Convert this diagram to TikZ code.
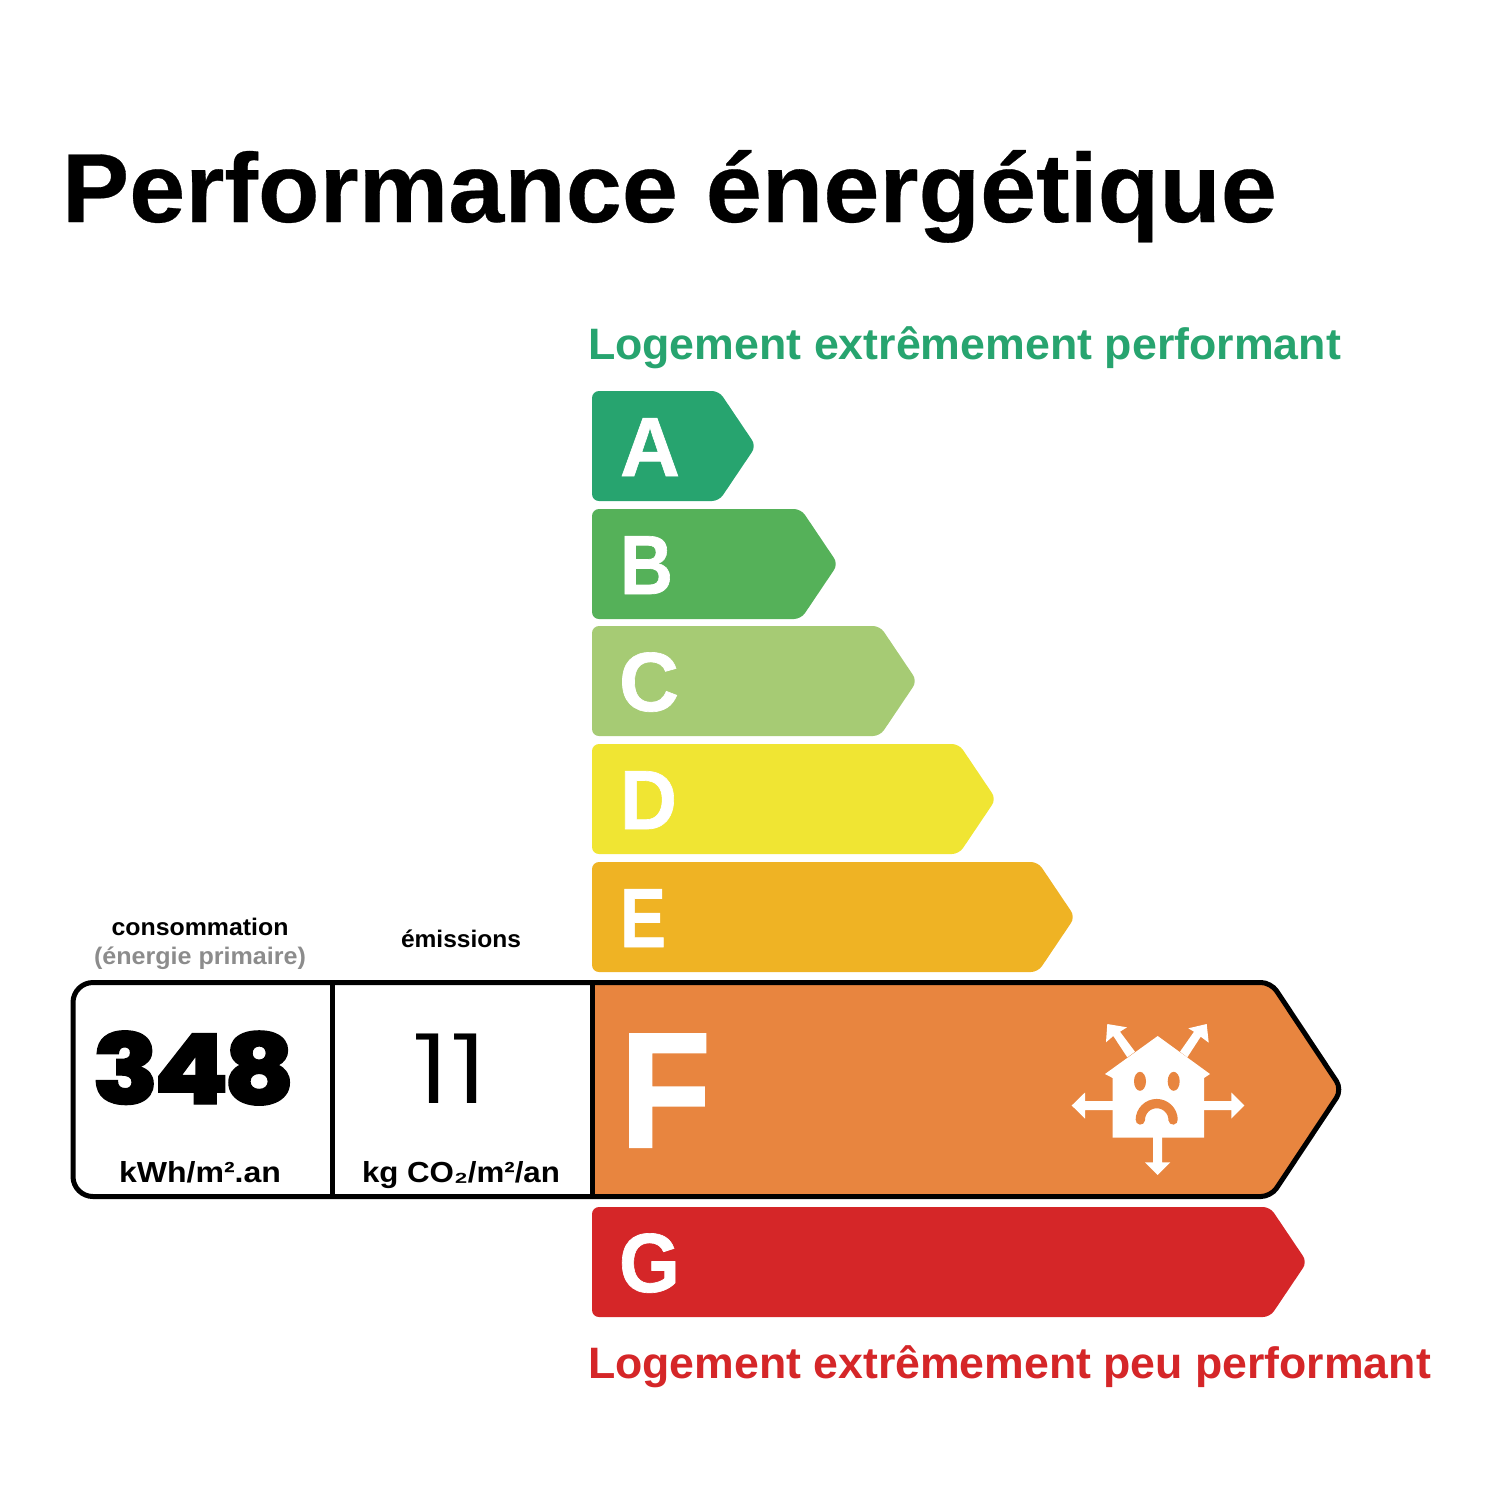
\documentclass[tikz,border=0pt]{standalone}
\usepackage{fontspec}
\setmainfont{Liberation Sans}
\newfontfamily\blackfont{Poppins ExtraBold}[FakeBold=1.4]
\newfontfamily\lightfont{Poppins Light}
\definecolor{gradeA}{HTML}{27A46F}
\definecolor{gradeB}{HTML}{55B159}
\definecolor{gradeC}{HTML}{A6CB74}
\definecolor{gradeD}{HTML}{F0E533}
\definecolor{gradeE}{HTML}{EFB324}
\definecolor{gradeF}{HTML}{E8853F}
\definecolor{gradeG}{HTML}{D52628}
\definecolor{labelgray}{HTML}{8C8C8C}
\newsavebox{\fitbox}
% \fitw{target width}{text}: stretch the text horizontally to a given width
\newcommand{\fitw}[2]{\sbox{\fitbox}{#2}\pgfmathsetmacro{\fitratio}{#1/(\wd\fitbox/1pt)}\scalebox{\fitratio}[1]{\usebox{\fitbox}}}
\newcommand{\fs}[1]{\fontsize{#1}{#1}\selectfont}
\newcommand{\heavy}[1]{\addfontfeature{FakeBold=#1}}
\tikzset{
  x=1pt,y=-1pt,
  txt/.style={inner sep=0pt,outer sep=0pt,anchor=base},
  txtw/.style={inner sep=0pt,outer sep=0pt,anchor=base west},
  grade/.style={rounded corners=7pt,draw=none},
  frameline/.style={draw=black,line width=5pt},
  icon/.style={fill=white,draw=none},
  iconcut/.style={fill=gradeF,draw=none},
}
% name, top y, apex x, colour, letter, letter x, letter width
\newcommand{\gradebar}[7]{%
  \fill[grade,#4] (592,#2+55) -- (592,#2) -- (#3-37,#2) -- (#3,#2+55) -- (#3-37,#2+110) -- (592,#2+110) -- cycle;
  \node[txtw,text=white] (#1) at (#6,#2+85) {\fitw{#7}{\fs{84}\bfseries\heavy{0.8} #5}};
}
\begin{document}
\begin{tikzpicture}
\useasboundingbox (0,0) rectangle (1500,1500);
\node[txtw] (title) at (62,222) {\fitw{1215}{\fs{98}\bfseries\heavy{0.3} Performance énergétique}};
\node[txtw,text=gradeA] (top) at (588,359) {\fitw{753}{\fs{44}\bfseries Logement extrêmement performant}};
\node[txtw,text=gradeG] (bottom) at (588,1378) {\fitw{843}{\fs{44}\bfseries Logement extrêmement peu performant}};

\gradebar{la}{391}{756}{gradeA}{A}{620}{60}
\gradebar{lb}{509}{838}{gradeB}{B}{620}{53}
\gradebar{lc}{626}{917}{gradeC}{C}{619}{60}
\gradebar{ld}{744}{996}{gradeD}{D}{620}{57}
\gradebar{le}{862}{1075}{gradeE}{E}{620}{46}
\gradebar{lg}{1207}{1307}{gradeG}{G}{619}{61}

% F bar and frame
\fill[gradeF,rounded corners=10pt] (592,982.5) -- (1271,982.5) -- (1342,1089.5) -- (1271,1196.5) -- (592,1196.5) [sharp corners] -- cycle;
\draw[frameline,rounded corners=10pt] (592,982.5) -- (1271,982.5) -- (1342,1089.5) -- (1271,1196.5) -- (592,1196.5);
\draw[frameline,rounded corners=20pt] (592,982.5) -- (73,982.5) -- (73,1196.5) -- (592,1196.5);
\draw[frameline] (332,982.5) -- (332,1196.5);
\draw[frameline] (592,980) -- (592,1199);
\node[txtw,text=white] (lf) at (620,1147) {\fitw{91}{\fs{164}\bfseries\heavy{1.2} F}};

% labels
\node[txt] (conso) at (200,935) {\fitw{177}{\fs{24}\bfseries consommation}};
\node[txt,text=labelgray] (prim) at (200,964) {\fitw{212}{\fs{24}\bfseries (énergie primaire)}};
\node[txt] (emis) at (461,947) {\fitw{120}{\fs{24}\bfseries émissions}};
\node[txtw] (conv) at (92,1104) {\fitw{203}{\fs{98}\blackfont 3\kern-5pt 4\kern-5pt 8}};
\node[txtw] (emv) at (412,1103) {\fitw{76}{\fs{97}\lightfont 11}};
\node[txt] (unita) at (200,1182) {\fitw{162}{\fs{29}\bfseries kWh/m²\kern0pt.an}};
\node[txt] (unitb) at (461,1182) {\fitw{198}{\fs{29}\bfseries kg CO₂/m²/an}};

% house icon
\fill[icon] (1157.7,1036) -- (1210,1074) -- (1204,1078) -- (1204,1137.7) -- (1112.7,1137.7) -- (1112.7,1078) -- (1105,1074) -- cycle;
\fill[iconcut] (1140,1081.3) ellipse[x radius=6pt,y radius=9.5pt];
\fill[iconcut] (1173.7,1081.3) ellipse[x radius=6pt,y radius=9.5pt];
\draw[gradeF,line width=9.3pt,line cap=round] (1140.3,1120) arc[start angle=180,end angle=0,radius=16.4pt];
% arrows
\fill[icon] (1113,1101) -- (1085,1101) -- (1085,1092.5) -- (1071.7,1105.5) -- (1085,1118.5) -- (1085,1110) -- (1113,1110) -- cycle;
\fill[icon] (1204,1101) -- (1231.3,1101) -- (1231.3,1092.5) -- (1244.3,1105.5) -- (1231.3,1118.5) -- (1231.3,1110) -- (1204,1110) -- cycle;
\fill[icon] (1153.2,1137) -- (1153.2,1162.3) -- (1145,1162.3) -- (1157.7,1175) -- (1170.4,1162.3) -- (1162.2,1162.3) -- (1162.2,1137) -- cycle;
\fill[icon] (1127.3,1057.3) -- (1113.3,1036) -- (1106,1042.3) -- (1107.3,1024) -- (1127,1027.3) -- (1120,1031.7) -- (1135,1051.7) -- cycle;
\fill[icon] (1187.3,1057.3) -- (1200.7,1036.7) -- (1208.7,1042.7) -- (1206.7,1024) -- (1188.3,1028.3) -- (1194,1031.7) -- (1180,1051.7) -- cycle;
\end{tikzpicture}
\end{document}
